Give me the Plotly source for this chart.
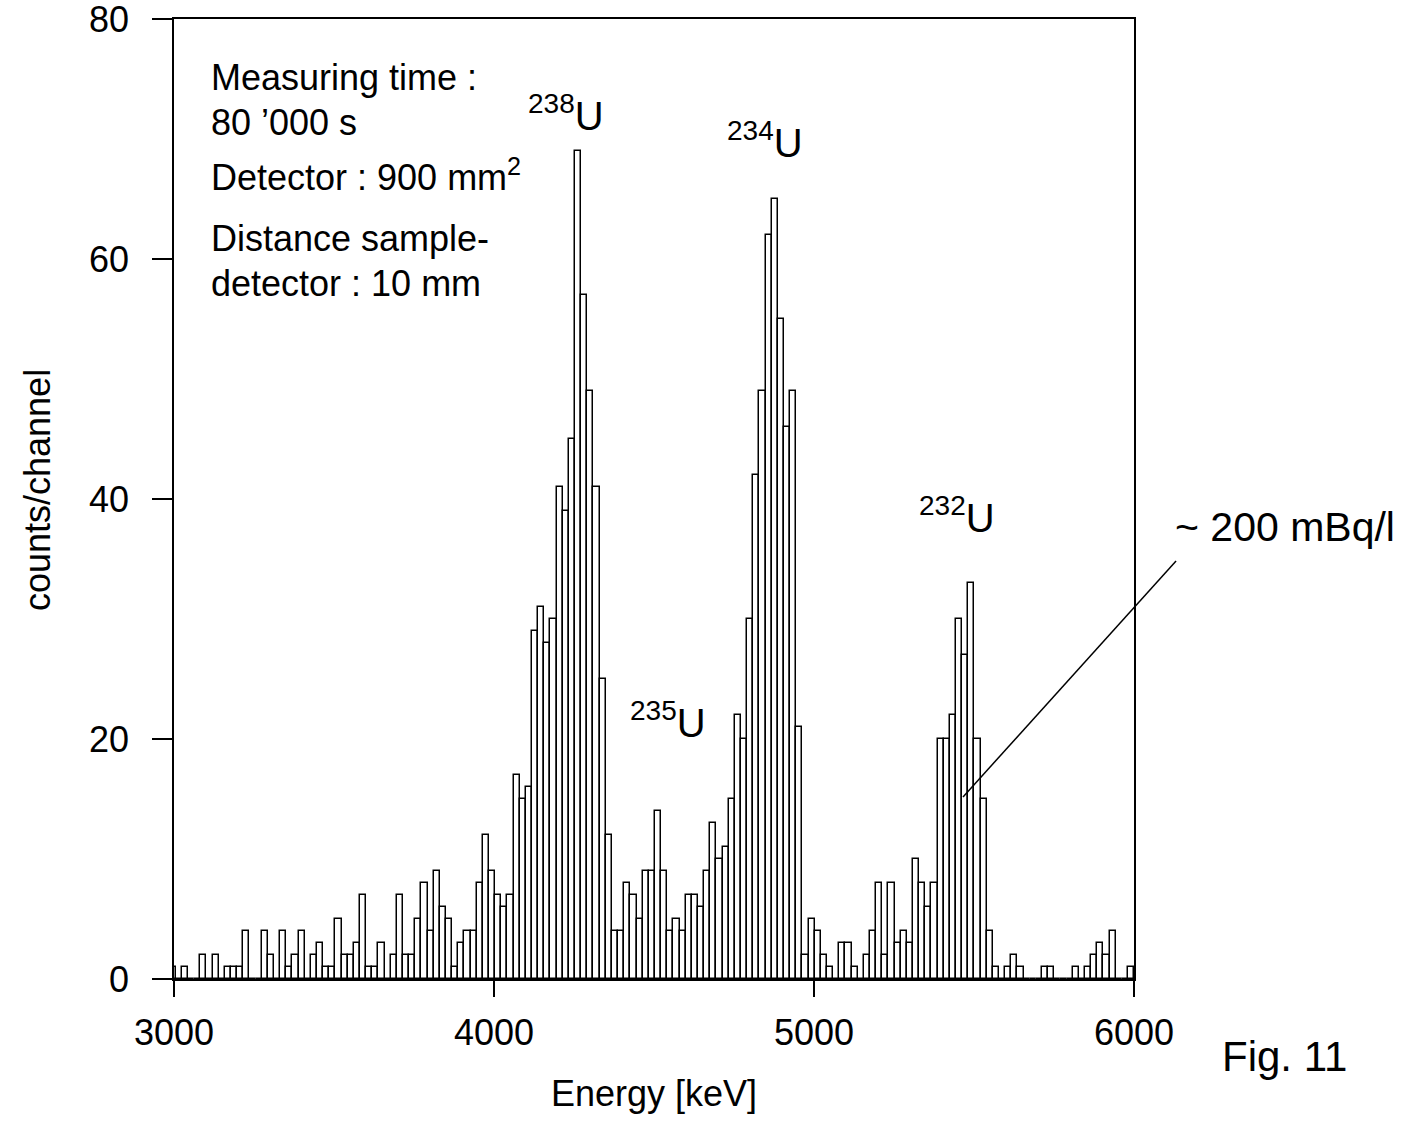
import plotly.graph_objects as go

# ---- data -------------------------------------------------------------
FIRST_EDGE_KEV = 2986.1      # lower edge of the first (clipped) channel
CHANNEL_WIDTH_KEV = 19.2

counts = [
    1,                                              # clipped channel
    0, 1, 0, 0, 2, 0, 2, 0, 1, 1, 1, 4, 0, 0, 4, 2, 0, 4, 1, 2,
    4, 0, 2, 3, 1, 1, 5, 2, 2, 3, 7, 1, 1, 3, 0, 2, 7, 2, 2, 5,
    8, 4, 9, 6, 5, 1, 3, 4, 4, 8, 12, 9, 7, 6, 7, 17, 15, 16, 29, 31,
    28, 30, 41, 39, 45, 69, 57, 49, 41, 25, 12, 4, 4, 8, 7, 5, 9, 9, 14, 9,
    4, 5, 4, 7, 7, 6, 9, 13, 10, 11, 15, 22, 20, 30, 42, 49, 62, 65, 55, 46,
    49, 21, 2, 5, 4, 2, 1, 0, 3, 3, 1, 0, 2, 4, 8, 2, 8, 3, 4, 3,
    10, 8, 6, 8, 20, 20, 22, 30, 27, 33, 20, 15, 4, 1, 0, 1, 2, 1, 0, 0,
    0, 1, 1, 0, 0, 0, 1, 0, 1, 2, 3, 2, 4, 0, 0, 1,
]

x_ticks = [3000, 4000, 5000, 6000]
y_ticks = [0, 20, 40, 60, 80]

info_lines = [
    "Measuring time :",
    "80 \u2019000 s",
    "Detector : 900 mm<sup>2</sup>",
    "Distance sample-",
    "detector : 10 mm",
]
info_y = [75.1, 71.4, 67.0, 61.75, 58.0]

isotopes = ["238", "234", "235", "232"]
peak_label_x = [4100, 4722, 4419, 5322]
peak_label_y = [72.2, 69.9, 21.6, 38.7]

# ---- figure -----------------------------------------------------------
centers = [FIRST_EDGE_KEV + CHANNEL_WIDTH_KEV * (i + 0.5) for i in range(len(counts))]

FONT = "Arial, Liberation Sans, sans-serif"

fig = go.Figure()
fig.add_trace(go.Bar(
    x=centers, y=counts, width=CHANNEL_WIDTH_KEV,
    marker=dict(color="white", line=dict(color="black", width=1.5)),
    showlegend=False, hoverinfo="x+y",
))

annotations = []
for txt, yy in zip(info_lines, info_y):
    annotations.append(dict(x=3109, y=yy, xref="x", yref="y", text=txt,
                            showarrow=False, xanchor="left", yanchor="middle",
                            font=dict(size=36, color="black", family=FONT)))
for iso, xx, yy in zip(isotopes, peak_label_x, peak_label_y):
    txt = "<sup><span style='font-size:28px'>" + iso + "</span></sup>U"
    annotations.append(dict(x=xx, y=yy, xref="x", yref="y", text=txt,
                            showarrow=False, xanchor="left", yanchor="middle",
                            font=dict(size=40, color="black", family=FONT)))

annotations += [
    dict(x=1.157, y=0.471, xref="paper", yref="paper", text="~ 200 mBq/l",
         showarrow=False, xanchor="center", yanchor="middle",
         font=dict(size=41, color="black", family=FONT)),
    dict(x=1.157, y=-0.081, xref="paper", yref="paper", text="Fig. 11",
         showarrow=False, xanchor="center", yanchor="middle",
         font=dict(size=42, color="black", family=FONT)),
    dict(x=0.5, y=-0.119, xref="paper", yref="paper", text="Energy [keV]",
         showarrow=False, xanchor="center", yanchor="middle",
         font=dict(size=36, color="black", family=FONT)),
    dict(x=-0.142, y=0.509, xref="paper", yref="paper", text="counts/channel",
         showarrow=False, xanchor="center", yanchor="middle", textangle=-90,
         font=dict(size=36, color="black", family=FONT)),
]

fig.update_layout(
    width=1418, height=1121,
    margin=dict(l=174, r=284, t=19, b=142, autoexpand=False),
    paper_bgcolor="white", plot_bgcolor="white",
    bargap=0,
    annotations=annotations,
    shapes=[dict(type="line", xref="paper", yref="paper",
                 x0=1.0438, y0=0.4354, x1=0.8219, y1=0.1896,
                 line=dict(color="black", width=1.5))],
    xaxis=dict(range=[3000, 6000], tickvals=x_ticks, ticks="outside",
               ticklen=16, tickwidth=1.5, tickcolor="black",
               showline=True, linecolor="black", linewidth=1.5, mirror=True,
               showgrid=False, zeroline=False, ticklabelstandoff=5,
               ticklabeloverflow="allow", automargin=False,
               tickfont=dict(size=36, color="black", family=FONT)),
    yaxis=dict(range=[0, 80], tickvals=y_ticks, ticks="outside",
               ticklen=20, tickwidth=1.5, tickcolor="black",
               showline=True, linecolor="black", linewidth=1.5, mirror=True,
               showgrid=False, zeroline=False, ticklabelstandoff=16,
               ticklabeloverflow="allow", automargin=False,
               tickfont=dict(size=36, color="black", family=FONT)),
)

fig.write_html("out.html", config={"displayModeBar": False},
               post_script="document.body.style.margin='0';")
